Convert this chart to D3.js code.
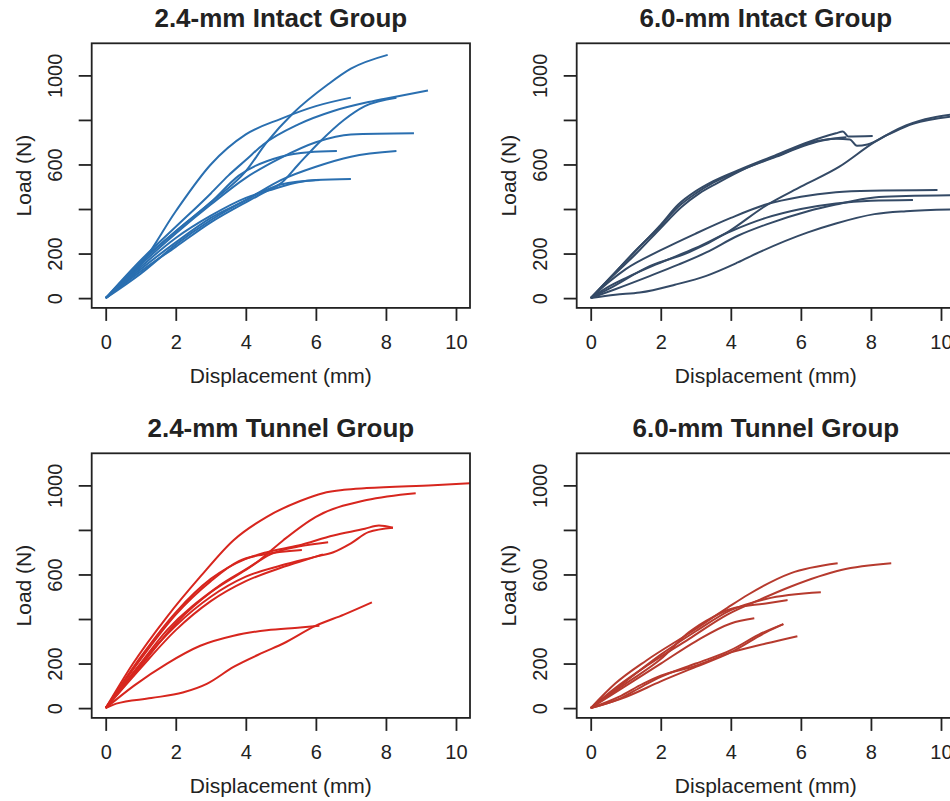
<!DOCTYPE html>
<html>
<head>
<meta charset="utf-8">
<script src="https://cdn.jsdelivr.net/npm/d3@7"></script>
<style>
  body { margin: 0; background: #fff; }
  text { font-family: "Liberation Sans", Arial, sans-serif; fill: #222; }
  .title { font-weight: bold; font-size: 26px; }
  .axis text { font-size: 20px; }
  .axis-title { font-size: 21px; }
</style>
</head>
<body>
<div id="chart"></div>
<script>
// tick values and labels (R drops the 400 / 800 labels)
const xTicks = [0, 2, 4, 6, 8, 10]
const yTicks = [0, 200, 400, 600, 800, 1000]
const yTickLabels = [0, 200, 600, 1000]

const panelTitles = ["2.4-mm Intact Group", "6.0-mm Intact Group", "2.4-mm Tunnel Group", "6.0-mm Tunnel Group"]

// load-displacement curves, [displacement mm, load N]
const intact24 = [
  [[0,0],[0.5,70],[1,160],[2,300],[3,430],[4,570],[4.6,700],[5.35,830],[6.35,960],[7,1030],[8.05,1092]],
  [[0,0],[0.5,65],[1,150],[2,390],[3,600],[4,735],[5,805],[6,862],[7,900]],
  [[0,0],[1,170],[2,320],[3,470],[3.5,550],[4,620],[4.5,690],[5.5,780],[6.5,840],[7.5,880],[8.2,902],[9.2,932]],
  [[0,0],[1,120],[2,230],[3,340],[4,430],[4.6,480],[5,515],[5.5,600],[6.1,700],[6.8,800],[7.4,862],[8.3,900]],
  [[0,0],[1,150],[2,290],[3,420],[4,540],[5,630],[6,700],[7,735],[8.8,740]],
  [[0,0],[1,160],[2,300],[3,430],[3.8,550],[5,635],[5.8,655],[6.6,660]],
  [[0,0],[1,130],[2,250],[3,360],[4,440],[5,530],[6,590],[7,635],[8.3,660]],
  [[0,0],[1,140],[2,270],[3,370],[4,450],[4.8,490],[5.5,520],[6,530],[7,535]],
  [[0,0],[1,110],[2,240],[3,350],[4,440],[4.5,480],[5,510],[6.1,530]]
]

const intact60 = [
  [[0,0],[0.6,100],[1.24,205],[2,330],[2.5,420],[3,480],[3.5,525],[4.3,580],[5.25,640],[6.2,700],[7,740],[7.2,748],[7.35,726],[8.05,728]],
  [[0,0],[0.6,98],[1.2,200],[2,325],[2.5,410],[3,470],[3.5,518],[4.3,575],[5.3,635],[6.2,690],[7,715],[7.4,712],[7.6,684],[7.9,690],[8.5,735],[9.2,782],[10.5,818]],
  [[0,0],[0.6,95],[1.3,200],[2,315],[2.6,410],[3.1,470],[3.6,515],[4.5,588],[5.5,650],[6.3,700],[7,718],[7.3,722]],
  [[0,0],[0.5,70],[1,130],[2,215],[3,290],[4,360],[5,420],[6,455],[7,475],[8,482],[9.9,485]],
  [[0,0],[0.7,40],[1.7,100],[2.5,150],[3.3,205],[4.2,280],[5,330],[6.2,390],[7,420],[8.1,452],[9,458],[10.5,462]],
  [[0,0],[0.7,15],[1.4,25],[2.4,60],[3.3,100],[4.2,160],[4.8,205],[6.2,295],[7,335],[8.1,377],[9,390],[10.5,398]],
  [[0,0],[0.5,50],[1,90],[2,160],[3,225],[4,300],[5,360],[6,400],[7,425],[8,437],[9.2,440]],
  [[0,0],[0.5,40],[1.7,145],[2.8,205],[3.9,295],[5,415],[6,500],[7.1,590],[8.1,700],[9,775],[10.5,828]]
]

const tunnel24 = [
  [[0,0],[0.78,200],[1.75,410],[2.7,590],[3.65,754],[4.6,859],[5.55,930],[6.2,965],[6.8,980],[7.45,988],[9.35,1001],[10.5,1010]],
  [[0,0],[0.8,160],[1.75,350],[3.2,545],[4.4,665],[5.07,754],[6,859],[7.45,934],[8.85,965]],
  [[0,0],[1,230],[2,430],[3,580],[4,670],[4.6,700],[5.5,730],[6.5,775],[7.4,805],[7.8,820],[8.2,810]],
  [[0,0],[1,200],[2,370],[3,500],[4,590],[5,640],[6,680],[6.5,700],[7,740],[7.5,790],[8.2,810]],
  [[0,0],[1,220],[2,420],[3,570],[3.8,660],[4.5,690],[5.6,710]],
  [[0,0],[1,190],[2,380],[3,520],[4,620],[4.7,690],[5.5,725],[6.35,745]],
  [[0,0],[1,180],[2,350],[3,480],[4,570],[5,630],[5.8,670],[6.2,690]],
  [[0,0],[0.3,20],[1.3,45],[2.2,70],[2.9,110],[3.65,185],[4.5,250],[5.07,290],[6,370],[6.8,420],[7.6,475]],
  [[0,0],[0.8,100],[1.75,200],[2.7,280],[3.65,325],[4.6,350],[5.55,362],[6.1,370]]
]

const tunnel60 = [
  [[0,0],[0.7,110],[1.6,215],[2.8,335],[3.9,450],[4.5,510],[5.7,605],[7.05,650]],
  [[0,0],[0.7,90],[1.6,190],[2.8,310],[3.9,420],[4.8,485],[5.7,545],[7.15,620],[8.58,650]],
  [[0,0],[1,120],[2,240],[3,345],[4,440],[5,490],[6.57,520]],
  [[0,0],[1,110],[2,220],[2.8,340],[3.5,410],[4,445],[5,470],[5.62,485]],
  [[0,0],[1,100],[2,200],[3,300],[4,380],[4.67,403]],
  [[0,0],[0.8,40],[1.5,100],[2,140],[3,200],[4,260],[4.8,330],[5.5,377]],
  [[0,0],[0.8,50],[1.5,110],[2,145],[3,190],[4,250],[5,290],[5.9,323]],
  [[0,0],[1,50],[2,120],[3,185],[4,250],[5,340],[5.5,377]]
]

const panelData = [intact24, intact60, tunnel24, tunnel60]
const panelColors = ["#2a6fb0", "#344a66", "#d7261e", "#b63a2e"]

// layout
const width = 950
const height = 801
const boxW = 378.3
const boxH = 264.6
const boxLeft = [91.7, 576.7]
const boxTop = [43.3, 453.3]

const svg = d3.select("#chart")
  .append("svg")
    .attr("width", width)
    .attr("height", height)

panelData.forEach((curves, i) => {
  const left = boxLeft[i % 2]
  const top = boxTop[Math.floor(i / 2)]

  const xScale = d3.scaleLinear()
    .domain([-0.4, 10.4])
    .range([left, left + boxW])
  const yScale = d3.scaleLinear()
    .domain([-44, 1144])
    .range([top + boxH, top])

  const g = svg.append("g")

  const clipId = "clip" + i
  g.append("clipPath")
      .attr("id", clipId)
    .append("rect")
      .attr("x", left)
      .attr("y", top)
      .attr("width", boxW)
      .attr("height", boxH)

  // curves
  const lineGenerator = d3.line()
    .x(d => xScale(d[0]))
    .y(d => yScale(d[1]))
    .curve(d3.curveMonotoneX)

  g.append("g")
      .attr("clip-path", `url(#${clipId})`)
    .selectAll("path")
    .data(curves)
    .join("path")
      .attr("d", lineGenerator)
      .attr("fill", "none")
      .attr("stroke", panelColors[i])
      .attr("stroke-width", 2)
      .attr("stroke-linejoin", "round")

  // box
  g.append("rect")
    .attr("x", left)
    .attr("y", top)
    .attr("width", boxW)
    .attr("height", boxH)
    .attr("fill", "none")
    .attr("stroke", "#222")
    .attr("stroke-width", 1.8)

  // x axis
  const xAxis = g.append("g")
    .attr("class", "axis")
    .attr("transform", `translate(0, ${top + boxH})`)
    .call(d3.axisBottom(xScale).tickValues(xTicks).tickSize(13).tickPadding(14))
  xAxis.select(".domain").remove()
  xAxis.selectAll("line").attr("stroke", "#222").attr("stroke-width", 1.8)
  xAxis.selectAll("text").attr("fill", "#222")

  // y axis, labels rotated like R's default
  const yAxis = g.append("g")
    .attr("class", "axis")
    .attr("transform", `translate(${left}, 0)`)
    .call(d3.axisLeft(yScale).tickValues(yTicks).tickSize(13)
      .tickFormat(d => yTickLabels.includes(d) ? d : ""))
  yAxis.select(".domain").remove()
  yAxis.selectAll("line").attr("stroke", "#222").attr("stroke-width", 1.8)
  yAxis.selectAll("text")
    .attr("fill", "#222")
    .attr("x", null)
    .attr("dy", null)
    .attr("text-anchor", "middle")
    .attr("transform", "translate(-30, 0) rotate(-90)")

  // titles
  g.append("text")
    .attr("class", "title")
    .attr("x", left + boxW / 2)
    .attr("y", top - 16)
    .attr("text-anchor", "middle")
    .text(panelTitles[i])

  g.append("text")
    .attr("class", "axis-title")
    .attr("x", xScale(5))
    .attr("y", top + boxH + 75)
    .attr("text-anchor", "middle")
    .text("Displacement (mm)")

  g.append("text")
    .attr("class", "axis-title")
    .attr("transform", `translate(${left - 61}, ${top + boxH / 2}) rotate(-90)`)
    .attr("text-anchor", "middle")
    .text("Load (N)")
})
</script>
</body>
</html>
